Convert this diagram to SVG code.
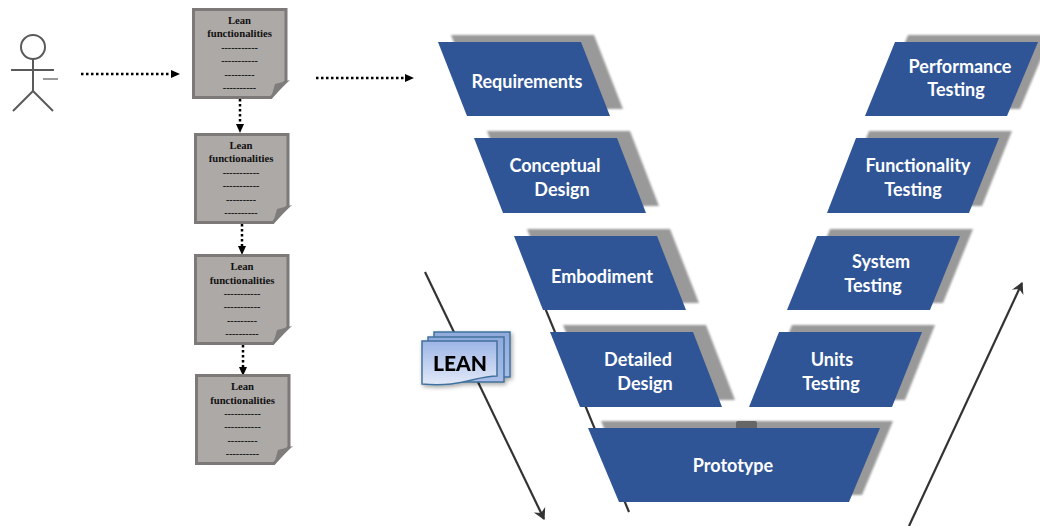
<svg xmlns="http://www.w3.org/2000/svg" width="1040" height="526" viewBox="0 0 1040 526">
<style>
.doc{fill:#ada9a7;stroke:#7c7978;stroke-width:3}
.fold{fill:#7f7c7b;stroke:none}
.dt{font-family:"Liberation Serif",serif;font-size:10px;font-weight:700;fill:#111;text-anchor:middle}
.dh{font-size:10.700px}
.dot{fill:none;stroke:#000;stroke-width:2.500;stroke-dasharray:2.500 2.500}
.p{fill:#2f5597}
.s{fill:#999;filter:url(#b)}
.t{font-family:Lato,"Open Sans",sans-serif;font-size:18px;font-weight:700;fill:#fff;text-anchor:middle;transform:translateY(1px)}
.ln{fill:none;stroke:#333;stroke-width:2.200}
.actor{fill:none;stroke:#5a5a5a;stroke-width:2}
.ld{stroke:#41719c;stroke-width:1.500}
</style>
<defs>
<filter id="b" x="-10%" y="-10%" width="120%" height="120%"><feGaussianBlur stdDeviation="1.200"/></filter>
<filter id="ls" x="-15%" y="-15%" width="130%" height="130%"><feDropShadow dx="1.500" dy="2" stdDeviation="2" flood-color="#000" flood-opacity=".35"/></filter>
<linearGradient id="g1" x1="0" y1="0" x2="0" y2="1"><stop offset="0" stop-color="#8faadc"/><stop offset="1" stop-color="#a8bde8"/></linearGradient>
<linearGradient id="g2" x1="0" y1="0" x2="0" y2="1"><stop offset="0" stop-color="#9db5e6"/><stop offset="1" stop-color="#e2e9f8"/></linearGradient>
<marker id="op" markerWidth="14" markerHeight="14" refX="11" refY="7" orient="auto" markerUnits="userSpaceOnUse"><path d="M2 2L11 7L2 12L5 7Z" fill="#333" stroke="#333" stroke-width="1"/></marker>
</defs>

<g id="connectors">
<path class="dot" d="M81 74H172"/><path d="M171 70L180 74L171 78Z"/>
<path class="dot" d="M316 78H406"/><path d="M405 74L414 78L405 82Z"/>
<path class="dot" d="M240 99V124"/><path d="M236 124L240 133L244 124Z"/>
<path class="dot" d="M242 224V246"/><path d="M238 246L242 255L246 246Z"/>
<path class="dot" d="M243 345V367"/><path d="M239 367L243 376L247 367Z"/>
<path class="ln" d="M425 272L544 519" marker-end="url(#op)"/>
<path class="ln" d="M522 252L629 512"/>
<path class="ln" d="M909 526L1022 283" marker-end="url(#op)"/>
</g>

<g id="actor" class="actor">
<circle cx="33" cy="47" r="12"/>
<path d="M33 59V91M11 70H54M33 91L13 111M33 91L53 111"/>
<path d="M43 79H58" stroke="#999"/>
</g>

<g id="doc1"><path class="doc" d="M193.500 9.500H286V81L271 97.500H193.500Z"/><path class="fold" d="M271 98L290 80L275 84Z"/><text class="dt dh" x="239.500" y="24">Lean</text><text class="dt dh" x="239.500" y="37">functionalities</text><text class="dt" x="239.500" y="51">-----------</text><text class="dt" x="239.500" y="64">-----------</text><text class="dt" x="239.500" y="78">---------</text><text class="dt" x="239.500" y="91">----------</text></g>
<g id="doc2"><path class="doc" d="M195.500 134.500H288V206L273 222.500H195.500Z"/><path class="fold" d="M273 223L292 205L277 209Z"/><text class="dt dh" x="241" y="149">Lean</text><text class="dt dh" x="241" y="162">functionalities</text><text class="dt" x="241" y="176">-----------</text><text class="dt" x="241" y="189">-----------</text><text class="dt" x="241" y="203">---------</text><text class="dt" x="241" y="216">----------</text></g>
<g id="doc3"><path class="doc" d="M195.500 255.500H288V327L273 343.500H195.500Z"/><path class="fold" d="M273 344L292 326L277 330Z"/><text class="dt dh" x="242" y="270">Lean</text><text class="dt dh" x="242" y="284">functionalities</text><text class="dt" x="242" y="297">-----------</text><text class="dt" x="242" y="310">-----------</text><text class="dt" x="242" y="324">---------</text><text class="dt" x="242" y="337">----------</text></g>
<g id="doc4"><path class="doc" d="M196.500 375.500H289V447L274 463.500H196.500Z"/><path class="fold" d="M274 464L293 446L278 450Z"/><text class="dt dh" x="242.500" y="390">Lean</text><text class="dt dh" x="242.500" y="404">functionalities</text><text class="dt" x="242.500" y="417">-----------</text><text class="dt" x="242.500" y="430">-----------</text><text class="dt" x="242.500" y="444">---------</text><text class="dt" x="242.500" y="457">----------</text></g>

<g id="lean" filter="url(#ls)">
<rect class="ld" x="434" y="332" width="76" height="45" fill="url(#g1)"/>
<rect class="ld" x="428" y="337" width="76" height="45" fill="url(#g1)"/>
<path class="ld" d="M422 341H497V376C475 376 460 388 422 384Z" fill="url(#g2)"/>
<text x="460" y="371" font-family="Lato,'Open Sans',sans-serif" font-size="21" font-weight="900" fill="#000" text-anchor="middle">LEAN</text>
</g>

<g id="requirements"><path class="s" d="M451 35H594L623 109H480Z"/><path class="p" d="M438 42H581L610 116H467Z"/><text class="t" x="527" y="87">Requirements</text></g>
<g id="conceptual"><path class="s" d="M487 131H630L659 206H516Z"/><path class="p" d="M474 138H617L646 213H503Z"/><text class="t" x="555" y="171">Conceptual</text><text class="t" x="562" y="195">Design</text></g>
<g id="embodiment"><path class="s" d="M527 229H670L699 303H556Z"/><path class="p" d="M514 236H657L686 310H543Z"/><text class="t" x="602" y="282">Embodiment</text></g>
<g id="detailed"><path class="s" d="M563 325H706L735 400H593Z"/><path class="p" d="M550 332H693L722 407H580Z"/><text class="t" x="638" y="365">Detailed</text><text class="t" x="645" y="389">Design</text></g>
<g id="prototype"><path class="s" d="M601 421H893L862 495H632Z"/><rect x="736" y="421" width="21" height="8" rx="2" fill="#666"/><path class="p" d="M588 428H880L849 502H619Z"/><text class="t" x="733" y="471">Prototype</text></g>
<g id="units"><path class="s" d="M792 325H935L905 400H762Z"/><path class="p" d="M779 332H922L892 407H749Z"/><text class="t" x="832" y="365">Units</text><text class="t" x="831" y="389">Testing</text></g>
<g id="system"><path class="s" d="M830 229H973L943 303H800Z"/><path class="p" d="M817 236H960L930 310H787Z"/><text class="t" x="881" y="267">System</text><text class="t" x="873" y="291">Testing</text></g>
<g id="functionality"><path class="s" d="M869 131H1012L982 206H840Z"/><path class="p" d="M856 138H999L969 213H827Z"/><text class="t" x="918" y="171">Functionality</text><text class="t" x="913" y="195">Testing</text></g>
<g id="performance"><path class="s" d="M908 35H1051L1020 109H878Z"/><path class="p" d="M895 42H1038L1007 116H865Z"/><text class="t" x="960" y="72">Performance</text><text class="t" x="956" y="95">Testing</text></g>
</svg>
